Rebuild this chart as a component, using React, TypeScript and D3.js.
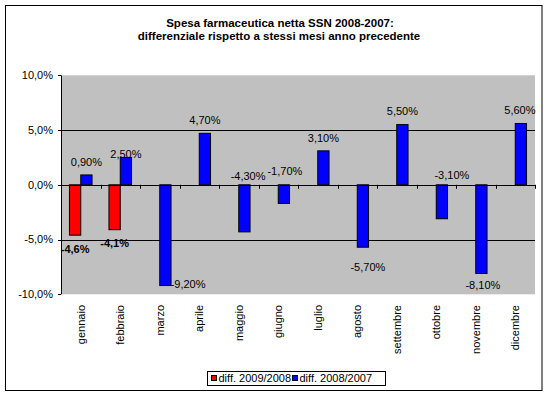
import React from "react";
import * as d3 from "d3";

const months = ["gennaio", "febbraio", "marzo", "aprile", "maggio", "giugno", "luglio", "agosto", "settembre", "ottobre", "novembre", "dicembre"];
const diff2009: (number | null)[] = [-4.6, -4.1, null, null, null, null, null, null, null, null, null, null];
const diff2008: number[] = [0.9, 2.5, -9.2, 4.7, -4.3, -1.7, 3.1, -5.7, 5.5, -3.1, -8.1, 5.6];
const yTicks = [10, 5, 0, -5, -10];
const seriesNames = ["diff. 2009/2008", "diff. 2008/2007"];
const seriesColors = ["#FF0000", "#0000FF"];
// manual label nudges (px) as in the original chart
const nudge2008: [number, number][] = [[0, 0], [0, 10], [22.7, -15], [0, 0], [3.7, -69.4], [1, -46], [0, 0], [5, 6.6], [0, 0], [10, -57], [1.5, -2], [-1, 0]];

const W = 548, H = 395;
const plot = { left: 61, right: 535, top: 75.3, bottom: 294.3 };
const font = "'Liberation Sans', Arial, sans-serif";

export default function App() {
  const x = d3.scaleBand<string>().domain(months).range([plot.left, plot.right]);
  const y = d3.scaleLinear().domain([-10, 10]).range([plot.bottom, plot.top]);
  const bw = x.bandwidth() / 3.5; // gap width 150%
  const gap = bw * 0.75;
  const fmtAxis = (v: number) => v.toFixed(1).replace(".", ",") + "%";
  const fmt2 = (v: number) => v.toFixed(2).replace(".", ",") + "%";
  const fmt1 = (v: number) => v.toFixed(1).replace(".", ",") + "%";
  const y0 = y(0);

  return (
    <svg width={W} height={H} style={{ position: "absolute", left: 0, top: 0 }} fontFamily={font}>
      <rect x={0} y={0} width={W} height={H} fill="#fff" />
      <rect x={5.5} y={5.5} width={536.5} height={385} fill="#fff" stroke="#000" strokeWidth={1} />
      <text x={280} y={27} textAnchor="middle" fontSize={11.5} fontWeight="bold">Spesa farmaceutica netta SSN 2008-2007:</text>
      <text x={279} y={39.5} textAnchor="middle" fontSize={11.5} fontWeight="bold">differenziale rispetto a stessi mesi anno precedente</text>

      <rect x={plot.left} y={plot.top} width={plot.right - plot.left} height={plot.bottom - plot.top} fill="#C0C0C0" />
      {yTicks.filter(t => t !== 0 && Math.abs(t) !== 10).map(t => (
        <line key={"g" + t} x1={plot.left} x2={plot.right} y1={Math.round(y(t)) + 0.5} y2={Math.round(y(t)) + 0.5} stroke="#000" />
      ))}

      {months.map((m, i) => {
        const x0 = (x(m) as number) + gap;
        const v1 = diff2009[i];
        const v2 = diff2008[i];
        return (
          <g key={m}>
            {v1 !== null && (
              <rect x={x0} y={Math.min(y(v1), y0)} width={bw} height={Math.abs(y(v1) - y0)} fill={seriesColors[0]} stroke="#000" strokeWidth={1} />
            )}
            <rect x={x0 + bw} y={Math.min(y(v2), y0)} width={bw} height={Math.abs(y(v2) - y0)} fill={seriesColors[1]} stroke="#000" strokeWidth={1} />
          </g>
        );
      })}

      {/* axes */}
      <line x1={plot.left + 0.5} x2={plot.left + 0.5} y1={plot.top} y2={plot.bottom} stroke="#000" />
      <line x1={plot.left} x2={plot.right} y1={Math.round(y0) + 0.5} y2={Math.round(y0) + 0.5} stroke="#000" />
      {yTicks.map(t => (
        <g key={"t" + t}>
          <line x1={plot.left - 3} x2={plot.left} y1={Math.round(y(t)) + 0.5} y2={Math.round(y(t)) + 0.5} stroke="#000" />
          <text x={53} y={y(t)} dy="0.35em" textAnchor="end" fontSize={11}>{fmtAxis(t)}</text>
        </g>
      ))}
      {months.map((m, i) => (
        <line key={"ct" + m} x1={Math.round((x(m) as number) + x.bandwidth()) + 0.5} x2={Math.round((x(m) as number) + x.bandwidth()) + 0.5} y1={y0} y2={y0 + 4} stroke="#000" />
      ))}
      <line x1={plot.left + 0.5} x2={plot.left + 0.5} y1={y0} y2={y0 + 4} stroke="#000" />

      {months.map(m => {
        const cx = (x(m) as number) + x.bandwidth() / 2;
        return (
          <text key={"ml" + m} transform={`translate(${cx},305) rotate(-90)`} dy="0.35em" textAnchor="end" fontSize={11}>{m}</text>
        );
      })}

      {/* data labels */}
      {months.map((m, i) => {
        const v = diff2009[i];
        if (v === null) return null;
        const cx = (x(m) as number) + gap + bw / 2;
        const cy = v >= 0 ? y(v) - 13 : y(v) + 13.5;
        return <text key={"l1" + m} x={cx} y={cy} dy="0.35em" textAnchor="middle" fontSize={11} fontWeight="bold">{fmt1(v)}</text>;
      })}
      {months.map((m, i) => {
        const v = diff2008[i];
        const cx = (x(m) as number) + gap + bw * 1.5 + nudge2008[i][0];
        const cy = (v >= 0 ? y(v) - 13 : y(v) + 13.5) + nudge2008[i][1];
        return <text key={"l2" + m} x={cx} y={cy} dy="0.35em" textAnchor="middle" fontSize={11}>{fmt2(v)}</text>;
      })}

      {/* legend */}
      <rect x={207.5} y={371.5} width={178} height={14} fill="#fff" stroke="#000" />
      {seriesNames.map((s, i) => {
        const lx = i === 0 ? 211.5 : 292.5;
        return (
          <g key={s}>
            <rect x={lx} y={375.5} width={5} height={5} fill={seriesColors[i]} stroke="#000" />
            <text x={lx + 7} y={378} dy="0.35em" fontSize={11}>{s}</text>
          </g>
        );
      })}
    </svg>
  );
}
